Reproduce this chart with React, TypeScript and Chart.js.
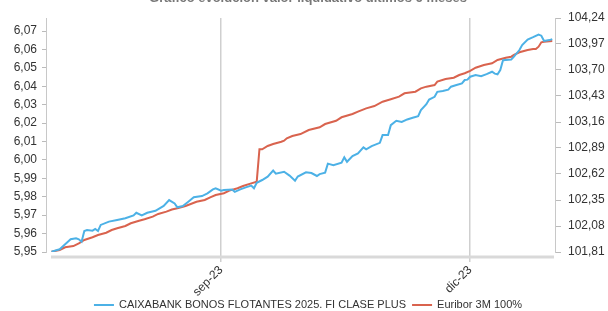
import { useEffect, useRef } from "react";
import { Chart, registerables } from "chart.js";

Chart.register(...registerables);

const chartTitle = "Gráfico evolución valor liquidativo últimos 6 meses";
const fundName = "CAIXABANK BONOS FLOTANTES 2025. FI CLASE PLUS";
const indexName = "Euribor 3M 100%";

const fundDates = [
  "2023-07-01", "2023-07-04", "2023-07-05", "2023-07-07", "2023-07-08", "2023-07-10", "2023-07-11", "2023-07-12",
  "2023-07-13", "2023-07-14", "2023-07-16", "2023-07-17", "2023-07-18", "2023-07-19", "2023-07-22", "2023-07-25",
  "2023-07-28", "2023-07-31", "2023-08-01", "2023-08-03", "2023-08-05", "2023-08-08", "2023-08-11", "2023-08-13",
  "2023-08-15", "2023-08-16", "2023-08-18", "2023-08-20", "2023-08-22", "2023-08-25", "2023-08-27", "2023-08-29",
  "2023-08-30", "2023-09-01", "2023-09-02", "2023-09-05", "2023-09-06", "2023-09-08", "2023-09-10", "2023-09-12",
  "2023-09-13", "2023-09-14", "2023-09-16", "2023-09-18", "2023-09-20", "2023-09-21", "2023-09-24", "2023-09-26",
  "2023-09-28", "2023-09-29", "2023-10-02", "2023-10-04", "2023-10-06", "2023-10-07", "2023-10-09", "2023-10-10",
  "2023-10-12", "2023-10-15", "2023-10-16", "2023-10-17", "2023-10-19", "2023-10-21", "2023-10-23", "2023-10-24",
  "2023-10-26", "2023-10-29", "2023-10-30", "2023-11-01", "2023-11-02", "2023-11-04", "2023-11-06", "2023-11-08",
  "2023-11-10", "2023-11-12", "2023-11-13", "2023-11-15", "2023-11-16", "2023-11-18", "2023-11-19", "2023-11-21",
  "2023-11-23", "2023-11-24", "2023-11-26", "2023-11-28", "2023-11-29", "2023-11-30", "2023-12-01", "2023-12-03",
  "2023-12-05", "2023-12-07", "2023-12-09", "2023-12-10", "2023-12-11", "2023-12-12", "2023-12-13", "2023-12-16",
  "2023-12-17", "2023-12-19", "2023-12-20", "2023-12-22", "2023-12-24", "2023-12-26", "2023-12-27", "2023-12-28",
  "2023-12-30", "2023-12-31",
];
const fundValues = [
  5.9502, 5.9515, 5.9529, 5.9556, 5.9569, 5.9574, 5.9569, 5.9556,
  5.9614, 5.9619, 5.9616, 5.9625, 5.9614, 5.9647, 5.9665, 5.9674,
  5.9683, 5.9699, 5.9713, 5.9699, 5.9713, 5.9724, 5.9750, 5.9782,
  5.9764, 5.9743, 5.9750, 5.9773, 5.9797, 5.9804, 5.9819, 5.9840,
  5.9846, 5.9833, 5.9837, 5.9840, 5.9827, 5.9840, 5.9851, 5.9861,
  5.9846, 5.9876, 5.9891, 5.9909, 5.9942, 5.9925, 5.9936, 5.9915,
  5.9887, 5.9910, 5.9933, 5.9929, 5.9913, 5.9923, 5.9931, 5.9980,
  5.9972, 5.9985, 6.0014, 5.9990, 6.0021, 6.0036, 6.0068, 6.0058,
  6.0075, 6.0093, 6.0135, 6.0135, 6.0189, 6.0213, 6.0206, 6.0220,
  6.0229, 6.0238, 6.0271, 6.0303, 6.0328, 6.0343, 6.0370, 6.0374,
  6.0382, 6.0398, 6.0407, 6.0416, 6.0434, 6.0436, 6.0452, 6.0461,
  6.0455, 6.0466, 6.0479, 6.0469, 6.0465, 6.0488, 6.0542, 6.0545,
  6.0561, 6.0597, 6.0624, 6.0654, 6.0667, 6.0681, 6.0675, 6.0646,
  6.0651, 6.0656,
];

const indexDates = [
  "2023-07-01", "2023-07-04", "2023-07-06", "2023-07-09", "2023-07-11", "2023-07-13", "2023-07-16", "2023-07-18",
  "2023-07-21", "2023-07-23", "2023-07-25", "2023-07-28", "2023-07-30", "2023-08-02", "2023-08-04", "2023-08-07",
  "2023-08-09", "2023-08-12", "2023-08-14", "2023-08-16", "2023-08-19", "2023-08-23", "2023-08-26", "2023-08-28",
  "2023-08-30", "2023-09-02", "2023-09-04", "2023-09-07", "2023-09-09", "2023-09-12", "2023-09-14", "2023-09-15",
  "2023-09-16", "2023-09-18", "2023-09-20", "2023-09-23", "2023-09-24", "2023-09-25", "2023-09-27", "2023-09-30",
  "2023-10-03", "2023-10-07", "2023-10-09", "2023-10-13", "2023-10-15", "2023-10-19", "2023-10-21", "2023-10-24",
  "2023-10-27", "2023-10-30", "2023-11-02", "2023-11-05", "2023-11-07", "2023-11-11", "2023-11-13", "2023-11-15",
  "2023-11-18", "2023-11-19", "2023-11-22", "2023-11-25", "2023-11-27", "2023-11-29", "2023-12-01", "2023-12-03",
  "2023-12-06", "2023-12-09", "2023-12-11", "2023-12-14", "2023-12-16", "2023-12-17", "2023-12-19", "2023-12-22",
  "2023-12-24", "2023-12-25", "2023-12-26", "2023-12-27", "2023-12-28", "2023-12-31",
];
const indexValues = [
  101.813, 101.831, 101.859, 101.872, 101.900, 101.935, 101.963, 101.987,
  102.010, 102.038, 102.056, 102.080, 102.108, 102.135, 102.150, 102.177,
  102.205, 102.229, 102.251, 102.264, 102.288, 102.332, 102.350, 102.378,
  102.402, 102.420, 102.447, 102.472, 102.495, 102.523, 102.540, 102.877,
  102.877, 102.911, 102.932, 102.955, 102.966, 102.991, 103.015, 103.035,
  103.077, 103.105, 103.139, 103.173, 103.209, 103.243, 103.267, 103.302,
  103.326, 103.371, 103.396, 103.423, 103.458, 103.475, 103.510, 103.527,
  103.544, 103.579, 103.607, 103.620, 103.648, 103.666, 103.690, 103.724,
  103.752, 103.770, 103.804, 103.828, 103.838, 103.856, 103.884, 103.908,
  103.918, 103.918, 103.942, 103.988, 103.994, 104.001,
];

const leftTicks = [5.95, 5.96, 5.97, 5.98, 5.99, 6.0, 6.01, 6.02, 6.03, 6.04, 6.05, 6.06, 6.07];
const leftRange = [5.95, 6.0771];
const rightTicks = [101.81, 102.08, 102.35, 102.62, 102.89, 103.16, 103.43, 103.7, 103.97, 104.24];
const rightRange = [101.81, 104.24];
const xTickDates = ["2023-09-01", "2023-12-01"];
const xTickLabels = ["sep-23", "dic-23"];
const periodStart = "2023-07-01";
const xRange = ["2023-06-29", "2024-01-01"];

const FONT = 'Arial, "Liberation Sans", sans-serif';
const BLUE = "#4cb1e6";
const RED = "#d9634e";
const TEXT = "#333333";

const dayOf = (s: string) => (Date.parse(s) - Date.parse(periodStart)) / 86400000;
const fmt = (v: number) => v.toFixed(2).replace(".", ",");

const extrasPlugin = {
  id: "extras",
  afterDraw(chart: any) {
    const ctx = chart.ctx;
    const area = chart.chartArea;
    ctx.save();
    // title (partly cut at the top)
    ctx.fillStyle = "#777";
    ctx.font = `bold 13px ${FONT}`;
    ctx.textAlign = "center";
    ctx.textBaseline = "alphabetic";
    ctx.fillText(chartTitle, 308, 2);
    // bottom baseline bar
    ctx.strokeStyle = "#d9d9d9";
    ctx.lineWidth = 3;
    ctx.beginPath();
    ctx.moveTo(area.left + 5, 257);
    ctx.lineTo(area.right - 1, 257);
    ctx.stroke();
    // legend
    ctx.font = `11px ${FONT}`;
    ctx.textAlign = "left";
    ctx.textBaseline = "middle";
    const w1 = ctx.measureText(fundName).width;
    const w2 = ctx.measureText(indexName).width;
    const mark = 20, gap = 5, sep = 6;
    const total = mark + gap + w1 + sep + mark + gap + w2;
    let x = 308 - total / 2;
    const y = 305;
    const items = [
      { c: BLUE, t: fundName, w: w1 },
      { c: RED, t: indexName, w: w2 },
    ];
    for (const it of items) {
      ctx.strokeStyle = it.c;
      ctx.lineWidth = 2;
      ctx.beginPath();
      ctx.moveTo(x, y);
      ctx.lineTo(x + mark, y);
      ctx.stroke();
      x += mark + gap;
      ctx.fillStyle = TEXT;
      ctx.fillText(it.t, x, y);
      x += it.w + sep;
    }
    ctx.restore();
  },
};

export default function App() {
  const ref = useRef<HTMLCanvasElement | null>(null);
  useEffect(() => {
    if (!ref.current) return;
    const chart = new Chart(ref.current, {
      type: "line",
      data: {
        datasets: [
          {
            label: fundName,
            data: fundDates.map((d, i) => ({ x: dayOf(d), y: fundValues[i] })),
            borderColor: BLUE,
            backgroundColor: BLUE,
            borderWidth: 2,
            pointRadius: 0,
            tension: 0,
            yAxisID: "y",
          },
          {
            label: indexName,
            data: indexDates.map((d, i) => ({ x: dayOf(d), y: indexValues[i] })),
            borderColor: RED,
            backgroundColor: RED,
            borderWidth: 2,
            pointRadius: 0,
            tension: 0,
            yAxisID: "y1",
          },
        ],
      },
      options: {
        responsive: false,
        animation: false,
        events: [],
        layout: { padding: { top: 18, left: 0, right: 0, bottom: 0 } },
        plugins: { legend: { display: false }, title: { display: false }, tooltip: { enabled: false } },
        scales: {
          x: {
            type: "linear",
            min: dayOf(xRange[0]),
            max: dayOf(xRange[1]),
            afterBuildTicks: (s: any) => {
              s.ticks = xTickDates.map((d) => ({ value: dayOf(d) }));
            },
            afterFit: (s: any) => {
              s.height = 59;
            },
            ticks: {
              autoSkip: false,
              minRotation: 45,
              maxRotation: 45,
              padding: 1,
              color: TEXT,
              font: { family: FONT, size: 12 },
              callback: (_v: any, i: number) => xTickLabels[i],
            },
            grid: { color: "#cfcfcf", lineWidth: 1.5, tickLength: 10, drawOnChartArea: true },
            border: { display: false },
          },
          y: {
            position: "left",
            min: leftRange[0],
            max: leftRange[1],
            afterBuildTicks: (s: any) => {
              s.ticks = leftTicks.map((v) => ({ value: v }));
            },
            afterFit: (s: any) => {
              s.width = 46;
            },
            ticks: {
              padding: 5,
              color: TEXT,
              font: { family: FONT, size: 12 },
              callback: (v: any) => fmt(Number(v)),
            },
            grid: { drawOnChartArea: false, tickLength: 4, tickColor: "#bbbbbb" },
            border: { display: true, color: "#c8c8c8", width: 1 },
          },
          y1: {
            position: "right",
            min: rightRange[0],
            max: rightRange[1],
            afterBuildTicks: (s: any) => {
              s.ticks = rightTicks.map((v) => ({ value: v }));
            },
            afterFit: (s: any) => {
              s.width = 53;
            },
            ticks: {
              padding: 7,
              color: TEXT,
              font: { family: FONT, size: 12 },
              callback: (v: any) => fmt(Number(v)),
            },
            grid: { drawOnChartArea: false, tickLength: 6, tickColor: "#bbbbbb" },
            border: { display: true, color: "#c8c8c8", width: 1 },
          },
        },
      },
      plugins: [extrasPlugin],
    } as any);
    return () => chart.destroy();
  }, []);

  return (
    <div style={{ position: "absolute", left: 0, top: 0, width: 608, height: 311, background: "#fff" }}>
      <canvas ref={ref} width={608} height={311} style={{ display: "block" }} />
    </div>
  );
}
